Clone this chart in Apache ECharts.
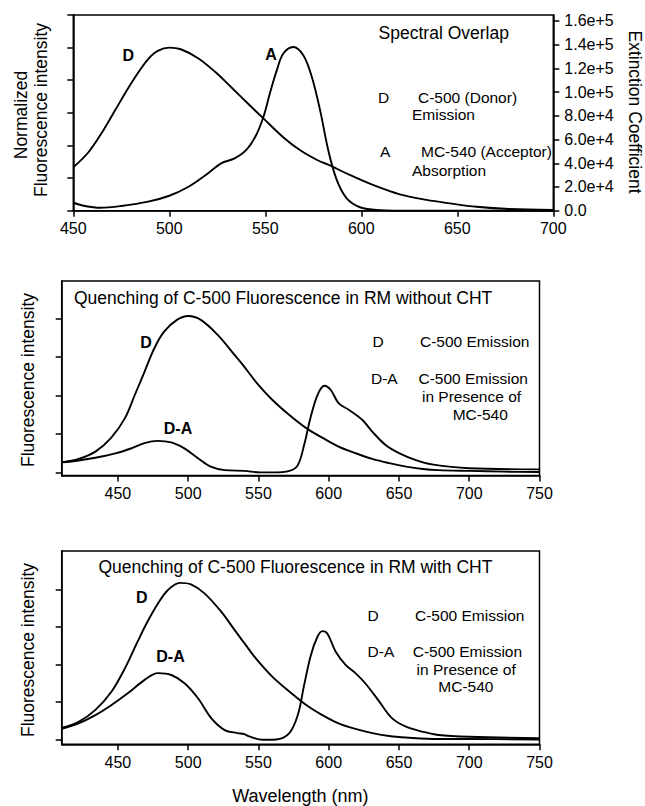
<!DOCTYPE html>
<html><head><meta charset="utf-8">
<script src="https://cdn.jsdelivr.net/npm/echarts@6/dist/echarts.min.js"></script>
<style>html,body{margin:0;padding:0;background:#fff}#c{width:645px;height:806px}</style>
</head><body><div id="c"></div>
<script>
// ---------- Panel 1: Spectral overlap ----------
const topDonorNm  = [450,458,466,472,478,484,489,494,500,506,515,524,532,542,549,559,568,577,584,594,606,620,634,646,660,677,700];
const topDonorVal = [0.266,0.36,0.50,0.62,0.74,0.85,0.93,0.98,1.00,0.99,0.935,0.85,0.76,0.645,0.566,0.454,0.372,0.311,0.276,0.219,0.158,0.10,0.066,0.045,0.024,0.010,0.004];
const topAcceptorNm  = [450,456,464,475,489,500,510,519,527,534,540,545,549,552.4,556,559.4,564.6,569.8,574.2,578.5,582.8,587.2,592.4,599.3,608,620,700];
const topAcceptorVal = [6700,4000,2500,4000,7600,12600,20200,30100,39900,44100,51000,63000,79000,99000,118500,132500,138000,131000,113000,85000,51000,26000,10400,2900,600,0,0];
const topXTicks = [450,500,550,600,650,700];
const extinctionTicks = [0,20000,40000,60000,80000,100000,120000,140000,160000];

// ---------- Panel 2: RM without CHT ----------
const midDonorNm  = [410,422,434,445,455,462,469,476,483,492,500,509,521,533,540,548,560,572,584,596,607,619,631,643,655,667,678,700,725,750];
const midDonorVal = [0.26,0.35,0.54,0.89,1.41,2.01,2.62,3.23,3.66,3.96,4.06,3.96,3.57,3.05,2.74,2.36,1.88,1.49,1.15,0.89,0.67,0.50,0.35,0.24,0.15,0.09,0.06,0.04,0.02,0.01];
const midDANm  = [410,422,434,449,460,469,478,488,497,507,516,526,540,551,560,572,578,582.5,587,592,597,601.5,607,614.5,624,631,640.5,650,662,673.5,700,750];
const midDAVal = [0.26,0.31,0.38,0.50,0.63,0.76,0.82,0.78,0.63,0.37,0.15,0.06,0.04,0.0,0.0,0.04,0.19,0.71,1.41,2.01,2.25,2.14,1.80,1.62,1.36,1.06,0.71,0.50,0.32,0.21,0.11,0.08];

// ---------- Panel 3: RM with CHT ----------
const botDonorNm  = [410,422,434,445.5,455,464,471,478.5,485.6,494,502,511.6,523.5,534,540,548,560,572,584,595.5,607,619,631,643,655,678,700,750];
const botDonorVal = [0.31,0.47,0.79,1.28,1.90,2.61,3.14,3.63,3.99,4.18,4.14,3.90,3.41,2.87,2.57,2.17,1.67,1.28,0.92,0.65,0.43,0.28,0.17,0.09,0.05,0.01,0.01,0.0];
const botDANm  = [410,422,434,445.5,457,469,478.5,488,497.4,507,516.4,526,535,540,543.5,553,562.5,572,578,582.5,587.3,592,595.5,599,605,612,619,626,636,645,655,666.5,678,700,750];
const botDAVal = [0.28,0.43,0.65,0.92,1.23,1.59,1.77,1.72,1.50,1.10,0.57,0.25,0.17,0.14,0.08,-0.01,0.0,0.17,0.65,1.45,2.25,2.74,2.89,2.83,2.34,1.99,1.77,1.50,1.01,0.57,0.34,0.21,0.12,0.07,0.03];
const quenchXTicks = [450,500,550,600,650,700,750];
const quenchYTicks = [0,1,2,3,4];

const FONT = '"Liberation Sans", Arial, Helvetica, sans-serif';
const BLACK = '#000';

function pairs(xs, ys){ return xs.map((x,i)=>[x, ys[i]]); }
function line(xs, ys, xi, yi){
  return {type:'line', xAxisIndex:xi, yAxisIndex:yi, data:pairs(xs,ys), showSymbol:false, symbol:'none',
    smooth:0.35, lineStyle:{color:BLACK, width:1.9}, itemStyle:{color:BLACK}, silent:true, clip:true};
}
const axisLine = {show:true, onZero:false, lineStyle:{color:BLACK, width:1.5}};
function tick(vals){ const t = {show:true, length:6, lineStyle:{color:BLACK, width:1.5}}; if(vals) t.customValues = vals; return t; }
const lbl = {color:BLACK, fontSize:16, fontFamily:FONT, margin:10};

function T(text, x, y, o){
  o = o || {};
  return {type:'text', x:x, y:y, rotation:o.rot||0, silent:true,
    style:{text:text, fill:BLACK, font:(o.bold?'bold ':'')+(o.size||15.5)+'px '+FONT,
      textAlign:o.align||'left', textVerticalAlign:'middle'}};
}

const chart = echarts.init(document.getElementById('c'), null, {renderer:'svg', width:645, height:806});
chart.setOption({
  animation:false,
  backgroundColor:'#fff',
  grid:[
    {left:73.3, top:15, width:480, height:195.7, show:true, borderColor:BLACK, borderWidth:1.5, containLabel:false, outerBoundsMode:'none'},
    {left:61.7, top:281, width:477.8, height:194.5, show:true, borderColor:BLACK, borderWidth:1.5, containLabel:false, outerBoundsMode:'none'},
    {left:61.7, top:551, width:477.8, height:193.3, show:true, borderColor:BLACK, borderWidth:1.5, containLabel:false, outerBoundsMode:'none'}
  ],
  xAxis:[
    {gridIndex:0, type:'value', min:450, max:700, interval:50, axisLine:axisLine, axisTick:tick(topXTicks),
      axisLabel:Object.assign({customValues:topXTicks}, lbl), splitLine:{show:false}},
    {gridIndex:1, type:'value', min:410, max:750, axisLine:axisLine, axisTick:tick(quenchXTicks),
      axisLabel:Object.assign({customValues:quenchXTicks}, lbl), splitLine:{show:false}},
    {gridIndex:2, type:'value', min:410, max:750, axisLine:axisLine, axisTick:tick(quenchXTicks),
      axisLabel:Object.assign({customValues:quenchXTicks}, lbl), splitLine:{show:false}}
  ],
  yAxis:[
    {gridIndex:0, type:'value', min:0, max:1.2, interval:0.2, axisLine:axisLine, axisTick:tick(), axisLabel:{show:false}, splitLine:{show:false}},
    {gridIndex:0, type:'value', position:'right', min:0, max:165000, axisLine:axisLine, axisTick:tick(extinctionTicks),
      axisLabel:Object.assign({customValues:extinctionTicks, formatter:v=> v===0?'0.0':v.toExponential(1)}, lbl, {margin:11}), splitLine:{show:false}},
    {gridIndex:1, type:'value', min:-0.08, max:4.97, axisLine:axisLine, axisTick:tick(quenchYTicks), axisLabel:{show:false}, splitLine:{show:false}},
    {gridIndex:2, type:'value', min:-0.13, max:5.03, axisLine:axisLine, axisTick:tick(quenchYTicks), axisLabel:{show:false}, splitLine:{show:false}}
  ],
  series:[
    line(topDonorNm, topDonorVal, 0, 0),
    line(topAcceptorNm, topAcceptorVal, 0, 1),
    line(midDonorNm, midDonorVal, 1, 2),
    line(midDANm, midDAVal, 1, 2),
    line(botDonorNm, botDonorVal, 2, 3),
    line(botDANm, botDAVal, 2, 3)
  ],
  graphic:[
    // panel 1
    T('Normalized', 20.6, 115, {rot:Math.PI/2, align:'center', size:17.5}),
    T('Fluorescence intensity', 41, 110, {rot:Math.PI/2, align:'center', size:17.5}),
    T('Extinction Coefficient', 635, 112, {rot:-Math.PI/2, align:'center', size:17.5}),
    T('Spectral Overlap', 378.6, 32.5, {size:17.5}),
    T('D', 128.3, 55.8, {bold:true, align:'center', size:16}),
    T('A', 271, 54.7, {bold:true, align:'center', size:16}),
    T('D', 378, 97), T('C-500 (Donor)', 418, 97), T('Emission', 412, 114.5),
    T('A', 380, 151.7), T('MC-540 (Acceptor)', 421, 151.7), T('Absorption', 412, 170),
    // panel 2
    T('Fluorescence intensity', 28, 380, {rot:Math.PI/2, align:'center', size:17.5}),
    T('Quenching of C-500 Fluorescence in RM without CHT', 74, 298, {size:17.5}),
    T('D', 146, 342, {bold:true, align:'center', size:16}),
    T('D-A', 178, 428.8, {bold:true, align:'center', size:16}),
    T('D', 372.5, 341.7), T('C-500 Emission', 420, 341.7),
    T('D-A', 371, 378), T('C-500 Emission', 418.5, 378), T('in Presence of', 422, 396), T('MC-540', 452.7, 414),
    // panel 3
    T('Fluorescence intensity', 28, 650, {rot:Math.PI/2, align:'center', size:17.5}),
    T('Quenching of C-500 Fluorescence in RM with CHT', 98.5, 567, {size:17.5}),
    T('D', 141.7, 597, {bold:true, align:'center', size:16}),
    T('D-A', 170.5, 656.3, {bold:true, align:'center', size:16}),
    T('D', 367.6, 615.3), T('C-500 Emission', 415, 615.3),
    T('D-A', 367.6, 651), T('C-500 Emission', 412.7, 651), T('in Presence of', 416.6, 669), T('MC-540', 438.3, 686.7),
    T('Wavelength (nm)', 300.4, 795.5, {align:'center', size:18})
  ]
});
</script>
</body></html>
